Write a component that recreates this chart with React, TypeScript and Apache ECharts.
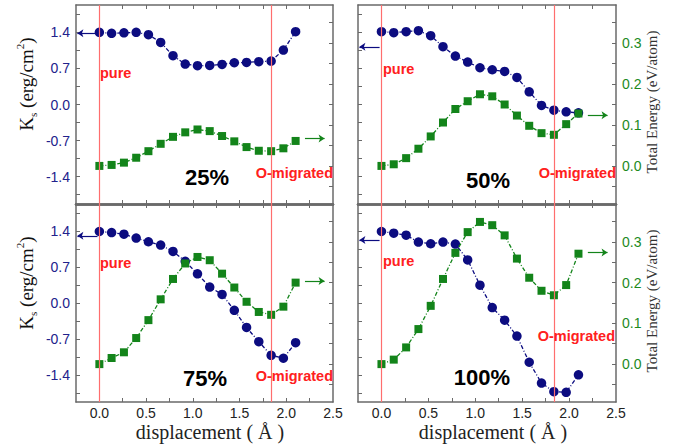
import React, { useEffect, useRef } from "react";
import * as echarts from "echarts";

// displacement (Å)
const X = [0, 0.131, 0.263, 0.394, 0.525, 0.656, 0.788, 0.919, 1.05, 1.181, 1.313, 1.444, 1.575, 1.706, 1.838, 1.969, 2.1];

// Ks (erg/cm^2), left axis
const KS_25 = [1.4, 1.38, 1.39, 1.4, 1.355, 1.205, 0.946, 0.784, 0.752, 0.758, 0.778, 0.81, 0.817, 0.83, 0.843, 1.056, 1.413];
const KS_50 = [1.413, 1.394, 1.413, 1.432, 1.335, 1.121, 0.94, 0.823, 0.713, 0.674, 0.642, 0.525, 0.246, -0.019, -0.11, -0.143, -0.162];
const KS_75 = [1.394, 1.374, 1.342, 1.265, 1.194, 1.129, 1.006, 0.813, 0.568, 0.31, 0.168, -0.142, -0.477, -0.755, -1.019, -1.077, -0.774];
const KS_100 = [1.394, 1.361, 1.323, 1.187, 1.155, 1.187, 1.148, 0.839, 0.348, -0.09, -0.335, -0.645, -1.155, -1.561, -1.729, -1.742, -1.4];

// Total energy (eV/atom), right axis
const E_25 = [0, 0.0024, 0.008, 0.02, 0.036, 0.054, 0.071, 0.082, 0.089, 0.085, 0.073, 0.06, 0.046, 0.037, 0.036, 0.043, 0.061];
const E_50 = [0, 0.004, 0.019, 0.042, 0.072, 0.106, 0.139, 0.158, 0.175, 0.17, 0.15, 0.123, 0.098, 0.08, 0.076, 0.102, 0.128];
const E_75 = [0, 0.015, 0.029, 0.064, 0.108, 0.159, 0.209, 0.247, 0.263, 0.255, 0.222, 0.188, 0.153, 0.128, 0.121, 0.141, 0.2];
const E_100 = [0, 0.011, 0.041, 0.086, 0.143, 0.209, 0.273, 0.324, 0.349, 0.341, 0.316, 0.259, 0.212, 0.18, 0.169, 0.194, 0.271];

const PANEL_LABELS = ["25%", "50%", "75%", "100%"];
const KS_SERIES = [KS_25, KS_50, KS_75, KS_100];
const E_SERIES = [E_25, E_50, E_75, E_100];

// reference lines (pure, O-migrated)
const REF_X = [0, 1.838];
// axis-pointer arrows: y level for each panel
const KS_ARROW_Y = [1.38, 1.12, 1.31, 1.23];
const E_ARROW_Y = [0.067, 0.124, 0.204, 0.274];
const KS_ARROW_X = [-0.02, -0.235];
const E_ARROW_X = [2.2, 2.41];

// ticks
const X_LABELS = [0, 0.5, 1.0, 1.5, 2.0, 2.5];
const X_TICKS = [0, 0.25, 0.5, 0.75, 1.0, 1.25, 1.5, 1.75, 2.0, 2.25];
const KS_LABELS = [-1.4, -0.7, 0, 0.7, 1.4];
const KS_TICKS = [-1.75, -1.4, -1.05, -0.7, -0.35, 0, 0.35, 0.7, 1.05, 1.4, 1.75];
const E_LABELS = [0, 0.1, 0.2, 0.3];
const E_TICKS = [-0.05, 0, 0.05, 0.1, 0.15, 0.2, 0.25, 0.3, 0.35];

const BLUE = "#0c0c80";
const GREEN = "#13841a";
const RED_LINE = "#ff6e6e";
const RED_TEXT = "#ff2020";
const AX = "#6a6a6a";
const SANS = "Liberation Sans, Arial, sans-serif";
const SERIF = "Liberation Serif, Times New Roman, serif";

const GRIDS = [
  { left: 76, top: 5, width: 257, height: 199 },
  { left: 358, top: 5, width: 258, height: 199 },
  { left: 76, top: 204, width: 257, height: 198 },
  { left: 358, top: 204, width: 258, height: 198 },
];

const PURE_POS = [[100, 73], [383, 69], [100, 263], [383, 261]];
const OMIG_POS = [[333, 173], [616, 173], [333, 376], [615, 336]];
const PCT_POS = [[207, 177], [488, 180], [205, 378], [482, 377]];

function buildOption() {
  const xAxis: any[] = [];
  const yAxis: any[] = [];
  const series: any[] = [];
  const graphic: any[] = [];
  const fmt = (v: number) => Number(v).toFixed(1);
  const redStyle = { color: RED_LINE, width: 1.2, type: "solid", opacity: 1 };

  GRIDS.forEach((_, g) => {
    const isLeft = g % 2 === 0;
    const isBottom = g >= 2;
    xAxis.push({
      type: "value", gridIndex: g, position: "bottom", min: -0.25, max: 2.5,
      axisLine: { show: true, onZero: false, lineStyle: { color: AX, width: isBottom ? 1.5 : 2.5 } },
      axisTick: { show: true, inside: true, length: 4, customValues: X_TICKS, lineStyle: { color: AX, width: 1 } },
      axisLabel: { show: isBottom, customValues: X_LABELS, formatter: fmt, color: "#222", fontSize: 14, fontFamily: SANS, margin: 4 },
      splitLine: { show: false },
    });
    xAxis.push({
      type: "value", gridIndex: g, position: "top", min: -0.25, max: 2.5,
      axisLine: { show: true, onZero: false, lineStyle: { color: AX, width: isBottom ? 2.5 : 1.5 } },
      axisTick: { show: true, inside: true, length: 4, customValues: X_TICKS, lineStyle: { color: AX, width: 1 } },
      axisLabel: { show: false },
      splitLine: { show: false },
    });
    yAxis.push({
      type: "value", gridIndex: g, position: "left", min: -1.93, max: 1.93,
      axisLine: { show: true, onZero: false, lineStyle: { color: AX, width: 1.5 } },
      axisTick: { show: true, inside: true, length: 4, customValues: KS_TICKS, lineStyle: { color: AX, width: 1 } },
      axisLabel: { show: isLeft, customValues: KS_LABELS, formatter: fmt, color: "#22228c", fontSize: 14, fontFamily: SANS, margin: 6 },
      splitLine: { show: false },
    });
    yAxis.push({
      type: "value", gridIndex: g, position: "right", min: -0.093, max: 0.393,
      axisLine: { show: true, onZero: false, lineStyle: { color: AX, width: 1.5 } },
      axisTick: { show: true, inside: true, length: 4, customValues: E_TICKS, lineStyle: { color: AX, width: 1 } },
      axisLabel: { show: !isLeft, customValues: E_LABELS, formatter: fmt, color: "#1d8a1d", fontSize: 14, fontFamily: SANS, margin: 6 },
      splitLine: { show: false },
    });

    const ks = KS_SERIES[g];
    const en = E_SERIES[g];
    // red reference lines (pure / O-migrated), drawn beneath the points
    series.push({
      type: "line", xAxisIndex: 2 * g, yAxisIndex: 2 * g,
      data: [],
      silent: true,
      z: 1,
      markLine: {
        silent: true, symbol: ["none", "none"], label: { show: false }, animation: false,
        lineStyle: redStyle,
        emphasis: { disabled: true },
        data: REF_X.map((v) => ({ xAxis: v, lineStyle: redStyle })),
      },
    });
    series.push({
      type: "line", xAxisIndex: 2 * g, yAxisIndex: 2 * g,
      data: X.map((x, i) => [x, ks[i]]),
      symbol: "circle", symbolSize: 9.5, color: BLUE,
      itemStyle: { color: BLUE },
      lineStyle: { color: BLUE, width: 1.3, type: [4, 2, 1, 2] },
      emphasis: { disabled: true },
      z: 3,
      markLine: {
        silent: true, symbol: ["none", "arrow"], symbolSize: 6, label: { show: false }, animation: false,
        lineStyle: { color: BLUE, width: 1.2, type: "solid" },
        data: [
          [
            { coord: [KS_ARROW_X[0], KS_ARROW_Y[g]] },
            { coord: [KS_ARROW_X[1], KS_ARROW_Y[g]] },
          ],
        ],
      },
    });
    series.push({
      type: "line", xAxisIndex: 2 * g, yAxisIndex: 2 * g + 1,
      data: X.map((x, i) => [x, en[i]]),
      symbol: "rect", symbolSize: 8, color: GREEN,
      itemStyle: { color: GREEN },
      lineStyle: { color: GREEN, width: 1.3, type: [4, 2, 1, 2] },
      emphasis: { disabled: true },
      z: 4,
      markLine: {
        silent: true, symbol: ["none", "arrow"], symbolSize: 6, label: { show: false }, animation: false,
        lineStyle: { color: GREEN, width: 1.2, type: "solid" },
        data: [
          [
            { coord: [E_ARROW_X[0], E_ARROW_Y[g]] },
            { coord: [E_ARROW_X[1], E_ARROW_Y[g]] },
          ],
        ],
      },
    });

    const bold = { fontWeight: "bold", fontFamily: SANS };
    graphic.push({
      type: "text", x: PURE_POS[g][0], y: PURE_POS[g][1], z: 100, silent: true,
      style: { text: "pure", fill: RED_TEXT, fontSize: 14.5, ...bold, align: "left", verticalAlign: "middle", textAlign: "left", textVerticalAlign: "middle" },
    });
    graphic.push({
      type: "text", x: OMIG_POS[g][0], y: OMIG_POS[g][1], z: 100, silent: true,
      style: { text: "O-migrated", fill: RED_TEXT, fontSize: 14.5, ...bold, align: "right", verticalAlign: "middle", textAlign: "right", textVerticalAlign: "middle" },
    });
    graphic.push({
      type: "text", x: PCT_POS[g][0], y: PCT_POS[g][1], z: 100, silent: true,
      style: { text: PANEL_LABELS[g], fill: "#000", fontSize: 22, ...bold, align: "center", verticalAlign: "middle", textAlign: "center", textVerticalAlign: "middle" },
    });
  });

  // axis titles
  [84, 283].forEach((cy) => {
    graphic.push({
      type: "text", x: 26, y: cy, rotation: Math.PI / 2, z: 100, silent: true,
      style: {
        text: "{a|K}{s|s}{a| (erg/cm}{p|2}{a|)}",
        align: "center", verticalAlign: "middle", textAlign: "center", textVerticalAlign: "middle",
        rich: {
          a: { fontSize: 19, fontFamily: SERIF, fill: "#111", color: "#111", lineHeight: 24 },
          s: { fontSize: 11, fontFamily: SERIF, fill: "#111", color: "#111", lineHeight: 11, verticalAlign: "bottom" },
          p: { fontSize: 11, fontFamily: SERIF, fill: "#111", color: "#111", lineHeight: 11, verticalAlign: "top" },
        },
      },
    });
  });
  [102, 301].forEach((cy) => {
    graphic.push({
      type: "text", x: 652, y: cy, rotation: Math.PI / 2, z: 100, silent: true,
      style: { text: "Total Energy (eV/atom)", fill: "#333", fontSize: 15, fontFamily: SERIF, align: "center", verticalAlign: "middle", textAlign: "center", textVerticalAlign: "middle" },
    });
  });
  [210, 493].forEach((cx) => {
    graphic.push({
      type: "text", x: cx, y: 432, z: 100, silent: true,
      style: { text: "displacement ( Å )", fill: "#222", fontSize: 20, fontFamily: SERIF, align: "center", verticalAlign: "middle", textAlign: "center", textVerticalAlign: "middle" },
    });
  });

  return {
    animation: false,
    backgroundColor: "#fff",
    grid: GRIDS.map((g) => ({ ...g, containLabel: false })),
    xAxis,
    yAxis,
    series,
    graphic,
  };
}

export default function App() {
  const ref = useRef<HTMLDivElement>(null);
  useEffect(() => {
    if (!ref.current) return;
    const chart = echarts.init(ref.current, undefined, { renderer: "svg" });
    chart.setOption(buildOption() as any);
    return () => chart.dispose();
  }, []);
  return (
    <div
      ref={ref}
      style={{ position: "fixed", left: 0, top: 0, width: 681, height: 447, background: "#fff" }}
    />
  );
}
